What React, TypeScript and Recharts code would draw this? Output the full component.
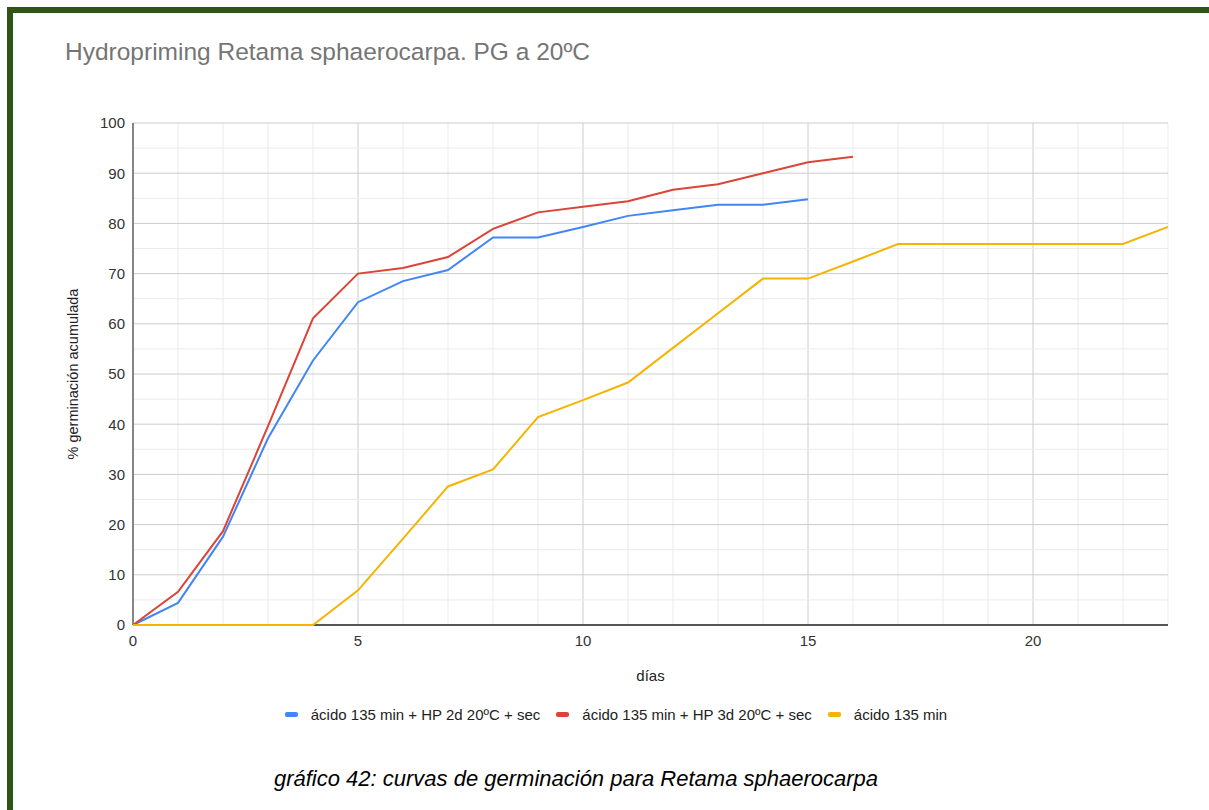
import { LineChart, Line, XAxis, YAxis, ReferenceLine } from "recharts"

// días desde la siembra
const days = [0, 1, 2, 3, 4, 5, 6, 7, 8, 9, 10, 11, 12, 13, 14, 15, 16, 17, 18, 19, 20, 21, 22, 23]

// % germinación acumulada
const hp2d = [0, 4.4, 17.6, 37.2, 52.7, 64.3, 68.5, 70.7, 77.2, 77.2, 79.3, 81.5, 82.6, 83.7, 83.7, 84.8]
const hp3d = [0, 6.6, 18.7, 39.6, 61.1, 70.0, 71.1, 73.3, 78.9, 82.2, 83.3, 84.4, 86.7, 87.8, 90.0, 92.2, 93.3]
const acido = [
  0, 0, 0, 0, 0, 6.9, 17.2, 27.6, 31.0, 41.4, 44.8, 48.3, 55.2, 62.1, 69.0, 69.0, 72.4, 75.9, 75.9, 75.9, 75.9,
  75.9, 75.9, 79.3,
]

const xTicks = [0, 5, 10, 15, 20]
const yTicks = [0, 10, 20, 30, 40, 50, 60, 70, 80, 90, 100]
const yMinor = [5, 15, 25, 35, 45, 55, 65, 75, 85, 95]

const series = [
  { key: "hp2d", name: "ácido 135 min + HP 2d 20ºC + sec", color: "#4285f4" },
  { key: "hp3d", name: "ácido 135 min + HP 3d 20ºC + sec", color: "#db4437" },
  { key: "acido", name: "ácido 135 min", color: "#f4b400" },
]

const data = days.map((d, i) => ({
  dia: d,
  hp2d: hp2d[i],
  hp3d: hp3d[i],
  acido: acido[i],
}))

const font = "'Liberation Sans', Arial, sans-serif"

export default function App() {
  return (
    <div
      style={{
        position: "absolute",
        left: 0,
        top: 0,
        width: 1209,
        height: 810,
        background: "#fff",
        fontFamily: font,
        overflow: "hidden",
      }}
    >
      <div
        style={{
          position: "absolute",
          left: 7,
          top: 7,
          width: 1202,
          height: 803,
          borderLeft: "6px solid #2e5418",
          borderTop: "6px solid #2e5418",
          boxSizing: "border-box",
        }}
      />
      <div
        style={{
          position: "absolute",
          left: 65,
          top: 38,
          fontSize: 24.5,
          color: "#757575",
          whiteSpace: "nowrap",
        }}
      >
        Hydropriming Retama sphaerocarpa. PG a 20ºC
      </div>

      <div style={{ position: "absolute", left: 0, top: 0 }}>
        <LineChart
          width={1209}
          height={810}
          data={data}
          margin={{ top: 123, right: 41, bottom: 155, left: 73 }}
        >
          {days.map((d) => (
            <ReferenceLine
              key={"vx" + d}
              x={d}
              stroke={d % 5 === 0 ? "#cccccc" : "#ebebeb"}
              strokeWidth={1}
            />
          ))}
          {yMinor.map((v) => (
            <ReferenceLine key={"hm" + v} y={v} stroke="#ebebeb" strokeWidth={1} />
          ))}
          {yTicks.map((v) => (
            <ReferenceLine key={"hy" + v} y={v} stroke="#cccccc" strokeWidth={1} />
          ))}
          {/* ejes dibujados debajo de las series */}
          <ReferenceLine x={0} stroke="#666" strokeWidth={1.5} />
          <ReferenceLine y={0} stroke="#555" strokeWidth={2} />
          <XAxis
            dataKey="dia"
            type="number"
            domain={[0, 23]}
            ticks={xTicks}
            tickLine={false}
            axisLine={false}
            tick={{ fontSize: 15, fill: "#333", fontFamily: font }}
            tickMargin={4}
            height={30}
            label={{
              value: "días",
              position: "bottom",
              offset: 15,
              style: { fontSize: 15, fill: "#222", fontFamily: font },
            }}
          />
          <YAxis
            type="number"
            domain={[0, 100]}
            ticks={yTicks}
            tickLine={false}
            axisLine={false}
            tick={{ fontSize: 15, fill: "#333", fontFamily: font }}
            tickMargin={2}
            width={60}
            label={{
              value: "% germinación acumulada",
              angle: -90,
              position: "center",
              dx: -30,
              style: { fontSize: 14.5, fill: "#222", fontFamily: font, textAnchor: "middle" },
            }}
          />
          {series.map((s) => (
            <Line
              key={s.key}
              type="linear"
              dataKey={s.key}
              name={s.name}
              stroke={s.color}
              strokeWidth={2}
              dot={false}
              activeDot={false}
              isAnimationActive={false}
            />
          ))}
        </LineChart>
      </div>

      <div
        style={{
          position: "absolute",
          left: 0,
          top: 706,
          width: 1232,
          display: "flex",
          justifyContent: "center",
          gap: 16,
        }}
      >
        {series.map((s) => (
          <span
            key={s.key}
            style={{ display: "flex", alignItems: "center", gap: 13, fontSize: 15, color: "#222" }}
          >
            <span style={{ width: 13, height: 5, borderRadius: 2, background: s.color, display: "inline-block" }} />
            {s.name}
          </span>
        ))}
      </div>

      <div
        style={{
          position: "absolute",
          left: 0,
          top: 766,
          width: 1152,
          textAlign: "center",
          fontSize: 22,
          fontStyle: "italic",
          color: "#000",
        }}
      >
        gráfico 42: curvas de germinación para Retama sphaerocarpa
      </div>
    </div>
  )
}
